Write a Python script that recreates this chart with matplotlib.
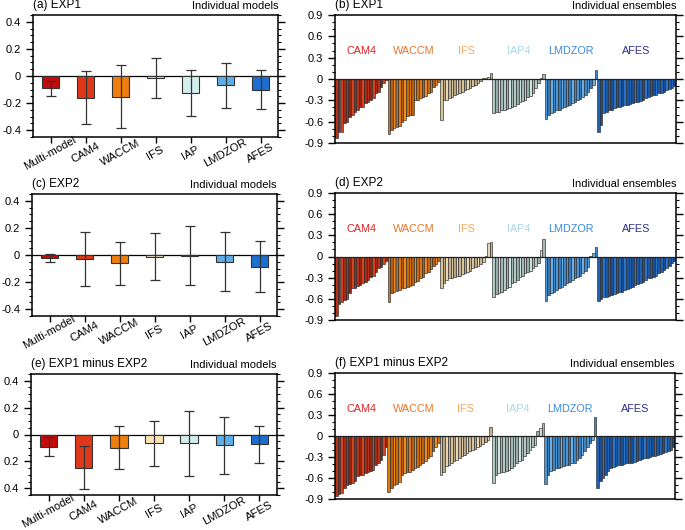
import numpy as np
import matplotlib
matplotlib.use("Agg")
import matplotlib.pyplot as plt
from matplotlib.ticker import MultipleLocator

plt.rcParams['font.family'] = ['Liberation Sans', 'DejaVu Sans']

#%% data - individual models
models = ['Multi-model', 'CAM4', 'WACCM', 'IFS', 'IAP', 'LMDZOR', 'AFES']

a_val = [-0.091, -0.164, -0.152, -0.017, -0.123, -0.069, -0.100]
a_lo = [-0.147, -0.355, -0.385, -0.165, -0.292, -0.233, -0.245]
a_hi = [-0.037, 0.034, 0.078, 0.135, 0.044, 0.093, 0.042]

c_val = [-0.022, -0.027, -0.061, -0.012, -0.005, -0.051, -0.086]
c_lo = [-0.054, -0.232, -0.222, -0.183, -0.222, -0.264, -0.274]
c_hi = [0.007, 0.171, 0.098, 0.164, 0.213, 0.166, 0.105]

e_val = [-0.096, -0.248, -0.098, -0.066, -0.066, -0.081, -0.071]
e_lo = [-0.162, -0.402, -0.258, -0.233, -0.307, -0.292, -0.209]
e_hi = [-0.022, -0.088, 0.066, 0.103, 0.177, 0.132, 0.066]

model_colors = ['#c40a0a', '#e0391a', '#ee7f0c', '#eedcc0', '#d4eeee', '#5eaeea', '#1c6fd0']
model_colors_e = ['#c40a0a', '#e0391a', '#ee7f0c', '#fde3b8', '#d4eeee', '#5eaeea', '#1c6fd0']

#%% data - individual ensembles (sorted members per model)
groups = ['CAM4', 'WACCM', 'IFS', 'IAP4', 'LMDZOR', 'AFES']
group_label_colors = ['#e02222', '#e5762a', '#f5a862', '#a8d6ee', '#3a8ade', '#2e2e8e']

b_cam4 = [-0.83, -0.75, -0.74, -0.62, -0.60, -0.53, -0.51, -0.46, -0.44, -0.40,
          -0.39, -0.34, -0.32, -0.30, -0.27, -0.19, -0.18, -0.11, -0.05, -0.015]
b_waccm = [-0.78, -0.72, -0.69, -0.67, -0.66, -0.60, -0.58, -0.52, -0.51, -0.50,
           -0.30, -0.29, -0.27, -0.26, -0.24, -0.20, -0.18, -0.11, -0.08, -0.04]
b_ifs = [-0.58, -0.30, -0.29, -0.27, -0.25, -0.23, -0.21, -0.20, -0.18, -0.16,
         -0.14, -0.12, -0.10, -0.08, -0.06, -0.03, 0.01, 0.02, 0.035, 0.085]
b_iap4 = [-0.48, -0.47, -0.46, -0.44, -0.43, -0.42, -0.41, -0.39, -0.38, -0.35,
          -0.33, -0.31, -0.29, -0.26, -0.24, -0.20, -0.12, -0.05, 0.02, 0.07]
b_lmdzor = [-0.56, -0.51, -0.48, -0.46, -0.44, -0.43, -0.41, -0.39, -0.38, -0.37,
            -0.34, -0.32, -0.30, -0.28, -0.25, -0.23, -0.18, -0.12, -0.08, 0.12]
b_afes = [-0.74, -0.65, -0.48, -0.46, -0.44, -0.43, -0.41, -0.40, -0.39, -0.38,
          -0.37, -0.36, -0.35, -0.34, -0.33, -0.32, -0.31, -0.30, -0.27, -0.25,
          -0.24, -0.22, -0.22, -0.20, -0.19, -0.18, -0.15, -0.14, -0.12, -0.10]

d_cam4 = [-0.85, -0.67, -0.65, -0.62, -0.60, -0.52, -0.45, -0.44, -0.42, -0.40,
          -0.38, -0.36, -0.34, -0.29, -0.27, -0.22, -0.17, -0.15, -0.10, -0.06]
d_waccm = [-0.65, -0.52, -0.50, -0.49, -0.47, -0.45, -0.44, -0.43, -0.42, -0.40,
           -0.36, -0.35, -0.31, -0.29, -0.24, -0.22, -0.18, -0.14, -0.10, -0.06]
d_ifs = [-0.45, -0.38, -0.34, -0.31, -0.30, -0.29, -0.28, -0.27, -0.25, -0.23,
         -0.22, -0.20, -0.17, -0.15, -0.13, -0.10, -0.08, 0.01, 0.19, 0.21]
d_iap4 = [-0.58, -0.53, -0.52, -0.50, -0.48, -0.45, -0.43, -0.38, -0.36, -0.34,
          -0.29, -0.27, -0.24, -0.22, -0.20, -0.16, -0.13, -0.09, 0.09, 0.25]
d_lmdzor = [-0.63, -0.55, -0.52, -0.50, -0.48, -0.45, -0.43, -0.41, -0.38, -0.36,
            -0.34, -0.31, -0.29, -0.27, -0.24, -0.20, -0.15, 0.01, 0.05, 0.13]
d_afes = [-0.63, -0.60, -0.58, -0.57, -0.56, -0.55, -0.53, -0.52, -0.51, -0.50,
          -0.48, -0.46, -0.44, -0.43, -0.41, -0.39, -0.38, -0.36, -0.34, -0.31,
          -0.30, -0.29, -0.27, -0.24, -0.22, -0.19, -0.16, -0.13, -0.09, -0.06]

f_cam4 = [-0.85, -0.83, -0.81, -0.74, -0.70, -0.69, -0.67, -0.64, -0.57, -0.56,
          -0.55, -0.53, -0.52, -0.50, -0.48, -0.42, -0.39, -0.34, -0.27, -0.15]
f_waccm = [-0.80, -0.74, -0.70, -0.69, -0.66, -0.55, -0.53, -0.52, -0.52, -0.48,
           -0.45, -0.44, -0.42, -0.38, -0.36, -0.31, -0.29, -0.22, -0.16, -0.10]
f_ifs = [-0.55, -0.52, -0.43, -0.41, -0.38, -0.36, -0.34, -0.31, -0.29, -0.27,
         -0.24, -0.22, -0.20, -0.19, -0.16, -0.14, -0.11, -0.08, -0.06, 0.13]
f_iap4 = [-0.67, -0.55, -0.53, -0.52, -0.52, -0.50, -0.48, -0.45, -0.43, -0.39,
          -0.36, -0.34, -0.29, -0.24, -0.20, -0.16, -0.13, 0.075, 0.12, 0.19]
f_lmdzor = [-0.68, -0.55, -0.50, -0.48, -0.46, -0.45, -0.44, -0.43, -0.42, -0.41,
            -0.39, -0.38, -0.34, -0.31, -0.27, -0.22, -0.16, -0.10, -0.05, 0.27]
f_afes = [-0.74, -0.64, -0.60, -0.55, -0.50, -0.45, -0.44, -0.43, -0.42, -0.41,
          -0.40, -0.39, -0.38, -0.38, -0.37, -0.35, -0.34, -0.33, -0.32, -0.31,
          -0.30, -0.29, -0.28, -0.27, -0.25, -0.24, -0.23, -0.22, -0.20, -0.16]

# shades cycled inside every model group
group_shades = [
    ['#b8321a', '#8e2612', '#d8421e', '#a02a14'],
    ['#e07a10', '#b86008', '#f08c22', '#c86c08'],
    ['#d6c49c', '#b8a682', '#e8d8b2', '#c4b290'],
    ['#b4c8c4', '#98aca8', '#d0e2de', '#a4b8b4'],
    ['#4c94d4', '#3478b8', '#6aaee4', '#3e86c6'],
    ['#1f62b4', '#174e96', '#2a74ca', '#1a58a6'],
]


#%% helpers
W, H = 685, 530

def px_axes(fig, x0, y0, x1, y1):
    # pixel box (top-left origin) -> figure fraction
    return fig.add_axes([x0 / W, 1 - y1 / H, (x1 - x0) / W, (y1 - y0) / H])

def style_frame(ax):
    for s in ax.spines.values():
        s.set_linewidth(1.1)
    ax.tick_params(axis='y', which='both', direction='out', left=True, right=True,
                   labelsize=8, width=1.0)
    ax.tick_params(axis='y', which='major', length=5)
    ax.tick_params(axis='y', which='minor', length=2.5, width=0.8)

def model_panel(ax, val, lo, hi, colors, left_title, neg_labels=True):
    x = np.arange(len(models))
    ax.bar(x, val, width=0.5, color=colors, edgecolor='#333333', linewidth=0.8, zorder=2)
    lo = np.array(lo); hi = np.array(hi)
    ax.errorbar(x, (lo + hi) / 2, yerr=(hi - lo) / 2, fmt='none', ecolor='#333333',
                elinewidth=0.9, capsize=3.5, capthick=0.9, zorder=3)
    ax.axhline(0, color='black', lw=0.9, zorder=1)
    ax.set_xlim(-0.5, len(models) - 0.5)
    ax.set_ylim(-0.45, 0.45)
    yt = [-0.4, -0.2, 0, 0.2, 0.4]
    ax.set_yticks(yt)
    if neg_labels:
        ax.set_yticklabels(['-0.4', '-0.2', '0', '0.2', '0.4'])
    else:
        ax.set_yticklabels(['0.4', '0.2', '0', '0.2', '0.4'])
    ax.yaxis.set_minor_locator(MultipleLocator(0.05))
    style_frame(ax)
    ax.set_xticks(x)
    ax.set_xticklabels(models, rotation=29, ha='center', va='center', rotation_mode='anchor',
                       fontsize=8.1)
    ax.tick_params(axis='x', direction='out', length=4, width=1.0, pad=7.6)
    ax.text(0.0, 1.035, left_title, transform=ax.transAxes, ha='left', va='bottom', fontsize=8.5)
    ax.text(1.0, 1.035, 'Individual models', transform=ax.transAxes, ha='right', va='bottom', fontsize=8)

def ensemble_panel(ax, members, left_title):
    start = 0
    for gi, vals in enumerate(members):
        n = len(vals)
        xs = np.arange(start, start + n)
        cols = [group_shades[gi][k % 4] for k in range(n)]
        ax.bar(xs, vals, width=1.0, color=cols, edgecolor='#2a2a2a', linewidth=0.45, zorder=2)
        ax.text(start + (n - 1) / 2, 0.39, groups[gi], color=group_label_colors[gi],
                ha='center', va='center', fontsize=7.8)
        start += n
    ax.axhline(0, color='#222222', lw=0.9, zorder=3)
    ax.set_xlim(-0.6, start - 0.4)
    ax.set_ylim(-0.9, 0.9)
    ax.set_yticks([-0.9, -0.6, -0.3, 0, 0.3, 0.6, 0.9])
    ax.set_yticklabels(['-0.9', '-0.6', '-0.3', '0', '0.3', '0.6', '0.9'])
    ax.yaxis.set_minor_locator(MultipleLocator(0.1))
    style_frame(ax)
    ax.set_xticks([])
    ax.text(0.0, 1.035, left_title, transform=ax.transAxes, ha='left', va='bottom', fontsize=8.5)
    ax.text(1.0, 1.035, 'Individual ensembles', transform=ax.transAxes, ha='right', va='bottom', fontsize=8)


#%% figure
fig = plt.figure(figsize=(6.85, 5.30), dpi=100)

ax_a = px_axes(fig, 33, 15, 278, 137)
model_panel(ax_a, a_val, a_lo, a_hi, model_colors, '(a) EXP1')
ax_c = px_axes(fig, 32, 194, 277, 316)
model_panel(ax_c, c_val, c_lo, c_hi, model_colors, '(c) EXP2')
ax_e = px_axes(fig, 31, 374, 277, 495)
model_panel(ax_e, e_val, e_lo, e_hi, model_colors_e, '(e) EXP1 minus EXP2', neg_labels=False)

ax_b = px_axes(fig, 335, 15, 676, 143)
ensemble_panel(ax_b, [b_cam4, b_waccm, b_ifs, b_iap4, b_lmdzor, b_afes], '(b) EXP1')
ax_d = px_axes(fig, 335, 193, 676, 320)
ensemble_panel(ax_d, [d_cam4, d_waccm, d_ifs, d_iap4, d_lmdzor, d_afes], '(d) EXP2')
ax_f = px_axes(fig, 335, 373, 675, 499)
ensemble_panel(ax_f, [f_cam4, f_waccm, f_ifs, f_iap4, f_lmdzor, f_afes], '(f) EXP1 minus EXP2')

fig.savefig('out.png', dpi=100)
